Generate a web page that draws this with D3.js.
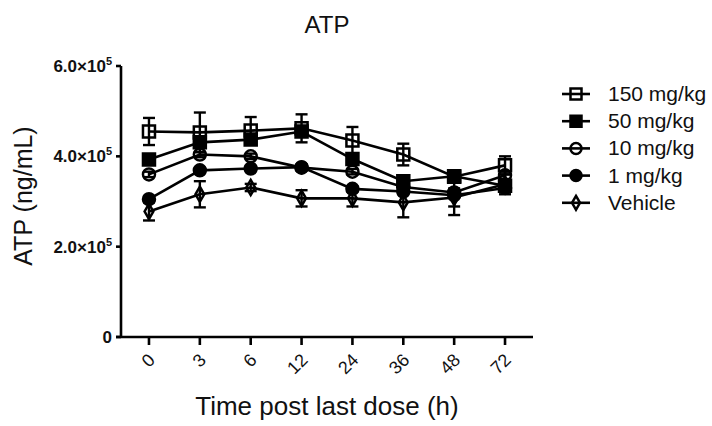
<!DOCTYPE html>
<html>
<head>
<meta charset="utf-8">
<script src="https://cdn.jsdelivr.net/npm/d3@7"></script>
<style>
  body { margin: 0; background: #fff; }
  text { font-family: "Liberation Sans", Arial, sans-serif; fill: #111; }
</style>
</head>
<body>
<script>
// time points (h)
var times = ["0", "3", "6", "12", "24", "36", "48", "72"];

// mean ATP (ng/mL) per group
var mean150 = [455000, 453000, 457000, 462000, 435000, 404000, 355000, 380000];
var mean50  = [393000, 431000, 437000, 455000, 394000, 345000, 356000, 335000];
var mean10  = [360000, 404000, 400000, 375000, 366000, 332000, 320000, 358000];
var mean1   = [305000, 369000, 373000, 376000, 328000, 322000, 314000, 330000];
var meanVeh = [278000, 316000, 331000, 307000, 307000, 298000, 309000, 338000];

// SEM
var sem150 = [30000, 44000, 30000, 31000, 30000, 24000, 10000, 20000];
var sem50  = [8000, 8000, 8000, 8000, 8000, 8000, 8000, 10000];
var sem10  = [6000, 6000, 6000, 6000, 6000, 6000, 6000, 8000];
var sem1   = [6000, 6000, 6000, 6000, 6000, 6000, 44000, 8000];
var semVeh = [20000, 29000, 8000, 18000, 18000, 33000, 20000, 22000];

var groups = ["150 mg/kg", "50 mg/kg", "10 mg/kg", "1 mg/kg", "Vehicle"];
var yTicks = [0, 200000, 400000, 600000];

var series = [
    {name: groups[0], mean: mean150, sem: sem150, shape: "square", fill: "none"},
    {name: groups[1], mean: mean50,  sem: sem50,  shape: "square", fill: "#000"},
    {name: groups[2], mean: mean10,  sem: sem10,  shape: "circle", fill: "none"},
    {name: groups[3], mean: mean1,   sem: sem1,   shape: "circle", fill: "#000"},
    {name: groups[4], mean: meanVeh, sem: semVeh, shape: "diamond", fill: "none"}
];

var width = 712, height = 426;
var svg = d3.select("body").append("svg")
    .attr("width", width)
    .attr("height", height);

var x = d3.scalePoint()
    .domain(times)
    .range([121, 533])
    .padding(0.55);

var y = d3.scaleLinear()
    .domain([0, 600000])
    .range([337, 66]);

// marker drawing helper
function marker(g, shape, fill, size) {
    var sym = shape === "square" ? d3.symbolSquare
            : shape === "circle" ? d3.symbolCircle : d3.symbolDiamond;
    var area = shape === "square" ? size * size
             : shape === "circle" ? Math.PI * size * size / 4 : size * size * 0.55;
    g.append("path")
        .attr("d", d3.symbol().type(sym).size(area)())
        .attr("fill", fill)
        .attr("stroke", "#000")
        .attr("stroke-width", 2.5);
}

// title
svg.append("text")
    .attr("x", 327).attr("y", 33)
    .attr("text-anchor", "middle")
    .style("font-size", "24px")
    .text("ATP");

// y axis
var yAxis = svg.append("g").attr("transform", "translate(121,0)");
yAxis.append("line")
    .attr("x1", 0).attr("x2", 0)
    .attr("y1", y(600000)).attr("y2", y(0))
    .attr("stroke", "#000").attr("stroke-width", 2.6);
yTicks.forEach(function(v) {
    yAxis.append("line")
        .attr("x1", -5).attr("x2", 0)
        .attr("y1", y(v)).attr("y2", y(v))
        .attr("stroke", "#000").attr("stroke-width", 2.6);
    var t = yAxis.append("text")
        .attr("x", -9)
        .attr("y", y(v) + 6)
        .attr("text-anchor", "end")
        .style("font-size", "17px")
        .style("font-weight", "bold");
    if (v === 0) {
        t.text("0");
    } else {
        t.append("tspan").text((v / 100000).toFixed(1) + "\u00d710");
        t.append("tspan")
            .attr("dy", -7)
            .style("font-size", "11px")
            .text("5");
    }
});

svg.append("text")
    .attr("transform", "translate(32,196) rotate(-90)")
    .attr("text-anchor", "middle")
    .style("font-size", "25px")
    .text("ATP (ng/mL)");

// x axis
var xAxis = svg.append("g").attr("transform", "translate(0,337)");
xAxis.append("line")
    .attr("x1", 116).attr("x2", 533)
    .attr("y1", 0).attr("y2", 0)
    .attr("stroke", "#000").attr("stroke-width", 2.6);
times.forEach(function(t) {
    xAxis.append("line")
        .attr("x1", x(t)).attr("x2", x(t))
        .attr("y1", 0).attr("y2", 8)
        .attr("stroke", "#000").attr("stroke-width", 2.6);
    xAxis.append("text")
        .attr("transform", "translate(" + (x(t) - 2) + ",15) rotate(-45)")
        .attr("text-anchor", "end")
        .attr("dy", "0.72em")
        .style("font-size", "18px")
        .text(t);
});

svg.append("text")
    .attr("x", 327).attr("y", 415)
    .attr("text-anchor", "middle")
    .style("font-size", "26px")
    .text("Time post last dose (h)");

// lines, error bars and markers
var line = d3.line()
    .x(function(d, i) { return x(times[i]); })
    .y(function(d) { return y(d); });

var plot = svg.append("g");
series.slice().reverse().forEach(function(s) {
    plot.append("path")
        .attr("d", line(s.mean))
        .attr("fill", "none")
        .attr("stroke", "#000")
        .attr("stroke-width", 2.6);
    s.mean.forEach(function(m, i) {
        var cx = x(times[i]);
        var top = y(m + s.sem[i]), bot = y(m - s.sem[i]);
        var eb = plot.append("g").attr("stroke", "#000").attr("stroke-width", 2.4);
        eb.append("line").attr("x1", cx).attr("x2", cx).attr("y1", top).attr("y2", bot);
        eb.append("line").attr("x1", cx - 6).attr("x2", cx + 6).attr("y1", top).attr("y2", top);
        eb.append("line").attr("x1", cx - 6).attr("x2", cx + 6).attr("y1", bot).attr("y2", bot);
    });
});
series.slice().reverse().forEach(function(s) {
    s.mean.forEach(function(m, i) {
        var g = plot.append("g")
            .attr("transform", "translate(" + x(times[i]) + "," + y(m) + ")");
        marker(g, s.shape, s.fill, s.shape === "diamond" ? 11 : 12);
    });
});

// legend
var legend = svg.append("g");
series.forEach(function(s, i) {
    var ly = 94 + i * 27.2;
    legend.append("line")
        .attr("x1", 562).attr("x2", 590)
        .attr("y1", ly).attr("y2", ly)
        .attr("stroke", "#000").attr("stroke-width", 2.6);
    var g = legend.append("g").attr("transform", "translate(576," + ly + ")");
    marker(g, s.shape, s.fill, s.shape === "diamond" ? 10 : 11);
    legend.append("text")
        .attr("x", 608).attr("y", ly + 7)
        .style("font-size", "21px")
        .text(s.name);
});
</script>
</body>
</html>
